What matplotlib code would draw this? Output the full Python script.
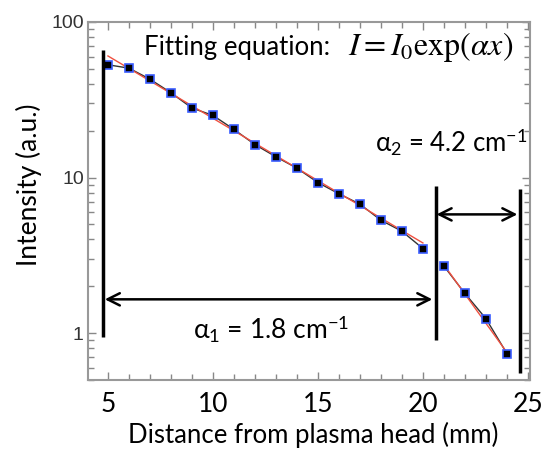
import numpy as np
import matplotlib
matplotlib.use('Agg')
import matplotlib.pyplot as plt
from matplotlib.ticker import MultipleLocator, LogLocator, NullFormatter, FixedLocator

plt.rcParams['font.family'] = ['Lato', 'DejaVu Sans']
plt.rcParams['mathtext.fontset'] = 'custom'
plt.rcParams['mathtext.rm'] = 'Lato'
plt.rcParams['mathtext.it'] = 'Lato:italic'

## data
dist_1 = [5, 6, 7, 8, 9, 10, 11, 12, 13, 14, 15, 16, 17, 18, 19, 20]
inten_1 = [53.1, 50.5, 42.9, 35.1, 28.0, 25.1, 20.4, 16.3, 13.6, 11.5,
           9.29, 7.87, 6.75, 5.32, 4.52, 3.50]
dist_2 = [21, 22, 23, 24]
inten_2 = [2.70, 1.80, 1.24, 0.74]

## fitted lines (end points)
fit1_x = [5, 20]
fit1_y = [60.5, 3.8]
fit2_x = [21, 24.1]
fit2_y = [2.75, 0.72]

## region markers
bar_x = [4.75, 20.6, 24.6]
bar_lo = [0.94, 0.91, 0.555]
bar_hi = [66, 8.8, 8.5]
arrow1 = (4.85, 20.45, 1.65)
arrow2 = (20.65, 24.5, 5.8)

fig = plt.figure(figsize=(5.48, 4.49), dpi=100)
ax = fig.add_axes([88/548, 1-380/449, 442/548, 358/449])

ax.plot(dist_1, inten_1, color='#333333', lw=1.0, zorder=2)
ax.plot(dist_2, inten_2, color='#333333', lw=1.0, zorder=2)
ax.plot(fit1_x, fit1_y, color='#f05040', lw=1.0, zorder=3)
ax.plot(fit2_x, fit2_y, color='#f05040', lw=1.0, zorder=3)
ax.plot(dist_1, inten_1, ls='none', marker='s', ms=6, mfc='black',
        mec='#3a5cff', mew=1.2, zorder=4)
ax.plot(dist_2, inten_2, ls='none', marker='s', ms=6, mfc='black',
        mec='#3a5cff', mew=1.2, zorder=4)

ax.set_yscale('log')
ax.set_xlim(4.05, 25.1)
ax.set_ylim(0.5, 100)

for x, lo, hi in zip(bar_x, bar_lo, bar_hi):
    ax.plot([x, x], [lo, hi], color='black', lw=2.5, solid_capstyle='butt', zorder=5)

for x0, x1, y in [arrow1, arrow2]:
    ax.annotate('', xy=(x0, y), xytext=(x1, y),
                arrowprops=dict(arrowstyle='<->', color='black', lw=1.8,
                                mutation_scale=22, shrinkA=0, shrinkB=0))

ax.text(0.5475, 0.908, 'Fitting equation:', transform=ax.transAxes,
        ha='right', va='baseline', fontsize=18.5)
ax.text(0.9615, 0.908, '$I=I_0\\mathrm{exp}(\\alpha x)$', transform=ax.transAxes,
        ha='right', va='baseline', fontsize=23, math_fontfamily='stix')
ax.text(0.822, 0.666, 'α$_2$ = 4.2 cm$^{-1}$', transform=ax.transAxes,
        ha='center', va='center', fontsize=18.5)
ax.text(0.415, 0.145, 'α$_1$ = 1.8 cm$^{-1}$', transform=ax.transAxes,
        ha='center', va='center', fontsize=19)

ax.xaxis.set_major_locator(MultipleLocator(5))
ax.xaxis.set_minor_locator(MultipleLocator(1))
ax.yaxis.set_major_locator(FixedLocator([1, 10, 100]))
ax.yaxis.set_minor_locator(LogLocator(base=10, subs=np.arange(2, 10)))
ax.yaxis.set_minor_formatter(NullFormatter())
ax.set_yticklabels(['1', '10', '100'])

ax.tick_params(which='both', direction='in', top=True, right=True, color='#888888')
ax.tick_params(which='major', length=6, width=1)
ax.tick_params(which='minor', length=4, width=1)
ax.tick_params(axis='x', labelsize=19, pad=9, labelcolor='black')
ax.tick_params(axis='y', labelsize=14, pad=3, labelcolor='#333333')
for lab in ax.get_yticklabels():
    lab.set_family('Liberation Sans')
for sp in ax.spines.values():
    sp.set_color('#999999')
    sp.set_linewidth(1.5)

ax.set_xlabel('Distance from plasma head (mm)', fontsize=18.5)
ax.set_ylabel('Intensity (a.u.)', fontsize=19)
ax.xaxis.set_label_coords(0.51, -0.118)
ax.yaxis.set_label_coords(-0.105, 0.545)

fig.savefig('out.png', dpi=100)
